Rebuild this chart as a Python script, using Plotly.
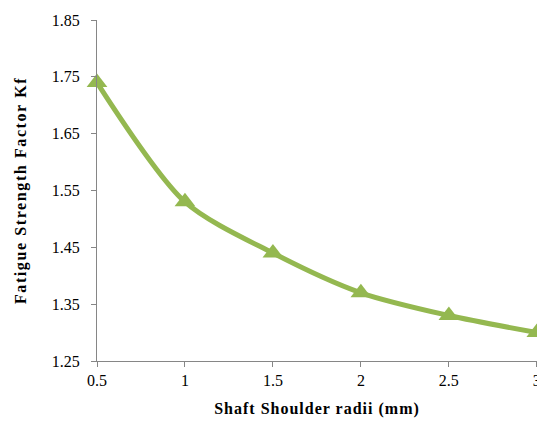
import plotly.graph_objects as go

radii = [0.5, 1, 1.5, 2, 2.5, 3]
kf = [1.74, 1.53, 1.44, 1.37, 1.33, 1.30]
y_ticks = [1.25, 1.35, 1.45, 1.55, 1.65, 1.75, 1.85]
x_ticks = [0.5, 1, 1.5, 2, 2.5, 3]

green = "#94B850"
axis_grey = "#868686"
serif = "Liberation Serif, Times New Roman, serif"

fig = go.Figure()
fig.add_trace(go.Scatter(
    x=radii, y=kf, mode="lines+markers",
    line=dict(color=green, width=5, shape="spline", smoothing=0.8),
    marker=dict(symbol="triangle-up", size=18, color=green),
    cliponaxis=False, showlegend=False,
))

fig.update_layout(
    width=537, height=424,
    margin=dict(l=97, r=0, t=20, b=63),
    paper_bgcolor="white", plot_bgcolor="white",
    font=dict(family=serif, color="#000000", size=16),
    xaxis=dict(
        range=[0.5, 3.001], tickvals=x_ticks, ticktext=[str(v) for v in x_ticks],
        showgrid=False, zeroline=False, showline=True, linecolor=axis_grey, linewidth=1,
        ticks="outside", ticklen=5, tickcolor=axis_grey, automargin=False,
        ticklabeloverflow="allow",
        tickfont=dict(family=serif, size=16),
        title=dict(text="<b>Shaft Shoulder radii (mm)</b>", font=dict(family=serif, size=16), standoff=14),
    ),
    yaxis=dict(
        range=[1.25, 1.85], tickvals=y_ticks, ticktext=[f"{v:.2f}" for v in y_ticks],
        showgrid=False, zeroline=False, showline=True, linecolor=axis_grey, linewidth=1,
        ticks="outside", ticklen=5, tickcolor=axis_grey, automargin=False,
        tickfont=dict(family=serif, size=16), ticklabelstandoff=8,
        title=dict(text="<b>Fatigue Strength Factor Kf</b>", font=dict(family=serif, size=16), standoff=21),
    ),
)

post = (
    "document.body.style.margin='0';document.body.style.overflow='hidden';"
    "document.querySelectorAll('.xtitle').forEach(function(e){e.style.letterSpacing='1px';});"
    "document.querySelectorAll('.ytitle').forEach(function(e){e.style.letterSpacing='1.6px';});"
)
fig.write_html("out.html", post_script=post, config={"displayModeBar": False})
